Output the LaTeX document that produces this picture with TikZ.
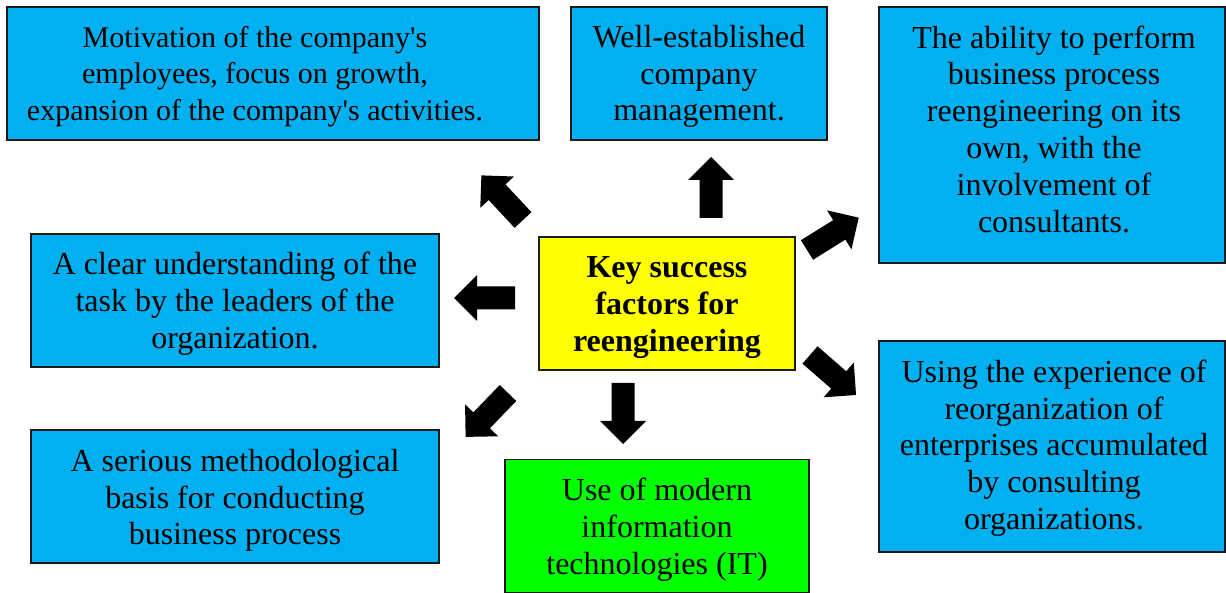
\documentclass[tikz,border=0pt]{standalone}
\usepackage{fontspec}
\setmainfont{Liberation Serif}[Ligatures=TeXOff]
\definecolor{boxblue}{HTML}{00B0F0}
\definecolor{boxgreen}{HTML}{00FF00}
\definecolor{boxyellow}{HTML}{FFFF00}
\definecolor{edge}{HTML}{1A1A1A}
\tikzset{
  box/.style={draw=edge, line width=0.8pt, inner sep=0pt},
  bluebox/.style={box, fill=boxblue},
  sz/.style 2 args={minimum width=#1*0.75pt, minimum height=#2*0.75pt},
  txt/.style={align=center, inner sep=0pt, font=\fontsize{24}{27.6}\selectfont},
  smalltxt/.style={align=center, inner sep=0pt, font=\fontsize{22.5}{27.4}\selectfont},
  barrow/.pic={\fill[black] (0,-11.5)--(38,-11.5)--(38,-23)--(61,0)--(38,23)--(38,11.5)--(0,11.5)--cycle;}
}
\begin{document}
\begin{tikzpicture}[x=0.75pt,y=0.75pt]
\useasboundingbox (0,0) rectangle (1226,592);
\fill[white] (0,0) rectangle (1226,592);
% boxes (Y = 592 - y_screen)
\node[bluebox, sz={532}{133}] (motiv) at (273,518.5) {};
\node[smalltxt] (motivT) at ([shift={(-18,-3)}]motiv.center)
  {Motivation of the company's\\employees, focus on growth,\\expansion of the company's activities.};
\node[bluebox, sz={256}{133}] (mgmt) at (699,518.5) {};
\node[txt] (mgmtT) at ([shift={(0,-3)}]mgmt.center)
  {Well-established\\company\\management.};
\node[bluebox, sz={346}{256}] (abil) at (1052,457) {};
\node[txt] (abilT) at ([shift={(2,6)}]abil.center)
  {The ability to perform\\business process\\reengineering on its\\own, with the\\involvement of\\consultants.};
\node[bluebox, sz={408}{133}] (clear) at (235,291.5) {};
\node[txt] (clearT) at ([shift={(0,-3)}]clear.center)
  {A clear understanding of the\\task by the leaders of the\\organization.};
\node[box, fill=boxyellow, sz={256}{133}] (key) at (667,288.5) {};
\node[txt, font=\fontsize{24}{27.6}\selectfont\bfseries] (keyT) at ([shift={(0,-4)}]key.center)
  {Key success\\factors for\\reengineering};
\node[bluebox, sz={346}{211}] (exper) at (1052,145.5) {};
\node[txt] (experT) at ([shift={(2,-1.5)}]exper.center)
  {Using the experience of\\reorganization of\\enterprises accumulated\\by consulting\\organizations.};
\node[bluebox, sz={408}{133}] (method) at (235,95.5) {};
\node[txt] (methodT) at ([shift={(0,-4)}]method.center)
  {A serious methodological\\basis for conducting\\business process};
\node[box, fill=boxgreen, sz={304}{133}] (it) at (657,66) {};
\node[txt] (itT) at ([shift={(0,-3.5)}]it.center)
  {Use of modern\\information\\technologies (IT)};
% block arrows
\coordinate (aU) at (711,374);
\coordinate (aUL) at (523,372);
\coordinate (aL) at (515,294);
\coordinate (aUR) at (807,342);
\coordinate (aDR) at (810,237);
\coordinate (aD) at (623,209);
\coordinate (aDL) at (508,199);
\pic[rotate=90] at (aU) {barrow};
\pic[rotate=133] at (aUL) {barrow};
\pic[rotate=180] at (aL) {barrow};
\pic[rotate=32] at (aUR) {barrow};
\pic[rotate=-41] at (aDR) {barrow};
\pic[rotate=-90] at (aD) {barrow};
\pic[rotate=226] at (aDL) {barrow};
\end{tikzpicture}
\end{document}
